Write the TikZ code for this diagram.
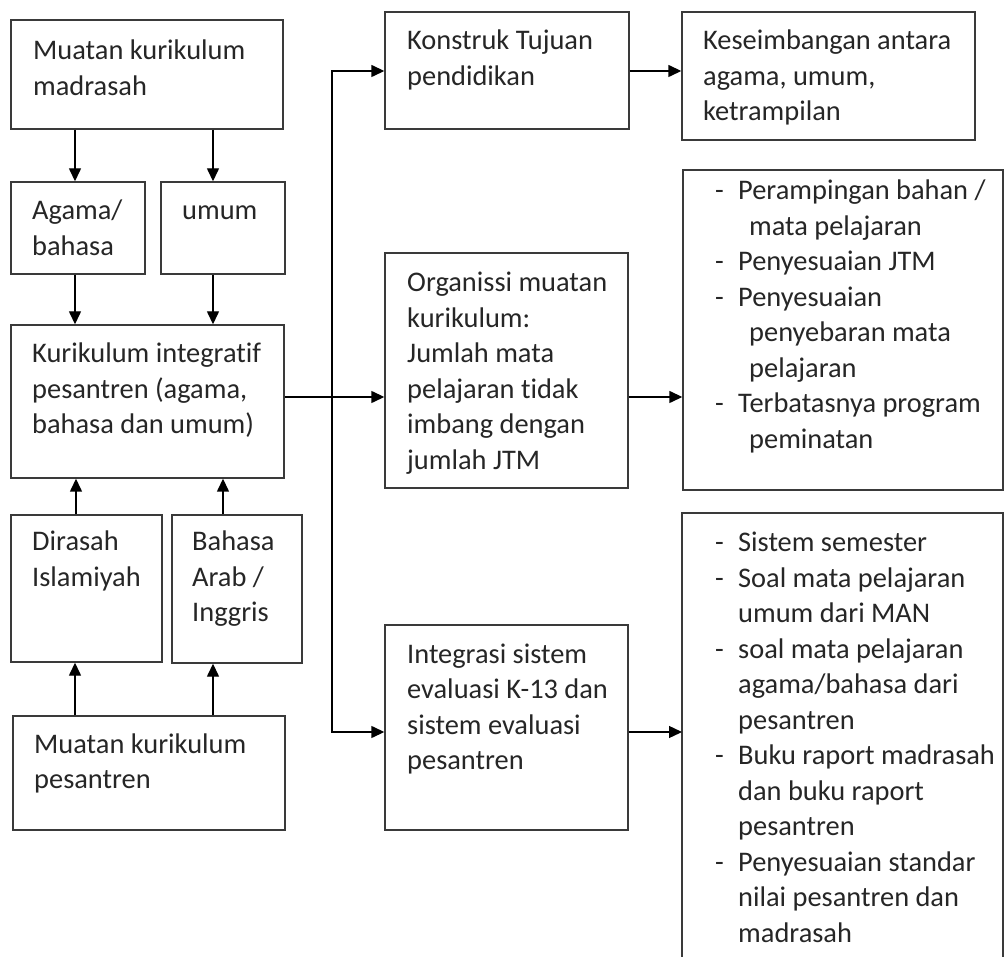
\documentclass[tikz,border=0pt]{standalone}
\usepackage{fontspec}
\setmainfont{Carlito}[Ligatures=NoCommon]
\usetikzlibrary{arrows.meta,fit,calc}
\definecolor{boxc}{HTML}{3A3A3A}
\definecolor{txtc}{HTML}{262626}
\tikzset{
  box/.style={draw=boxc, line width=1.4pt, inner sep=0pt},
  txt/.style={text=txtc, inner sep=0pt, anchor=base west, font=\fontsize{28.4}{35.5}\selectfont},
  arr/.style={draw=black, line width=1.4pt, -{Triangle[length=13pt,width=12pt]}},
  ln/.style={draw=black, line width=1.4pt}
}
\newcommand\mybox[5]{\node[box, fit={(#2,#3) (#4,#5)}] (#1) {};}
\newcommand\mytxt[4]{\node[txt] (#1) at (#2,#3) {\begin{tabular}[t]{@{}l@{}}#4\end{tabular}};}
\newcommand\dsh{\makebox[23pt][l]{-}}
\begin{document}
\begin{tikzpicture}[x=1pt,y=-1pt]
\useasboundingbox[fill=white] (0,0) rectangle (1005,957);
% left column
\mybox{b1}{11}{20}{283}{129}
\mytxt{t1}{33}{60}{Muatan kurikulum\\madrasah}
\mybox{b2}{11}{182}{145}{274}
\mytxt{t2}{32}{220}{Agama/\\bahasa}
\mybox{b3}{161}{182}{285}{274}
\mytxt{t3}{182}{220}{umum}
\mybox{b4}{11}{325}{284}{478}
\mytxt{t4}{32}{363}{Kurikulum integratif\\pesantren (agama,\\bahasa dan umum)}
\mybox{b5}{11}{515}{162}{662}
\mytxt{t5}{32}{551}{Dirasah\\Islamiyah}
\mybox{b6}{172}{515}{302}{663}
\mytxt{t6}{192}{551}{Bahasa\\Arab /\\Inggris}
\mybox{b7}{13}{716}{285}{830}
\mytxt{t7}{34}{753}{Muatan kurikulum\\pesantren}
% middle column
\mybox{b8}{385}{12}{629}{129}
\mytxt{t8}{407}{50}{Konstruk Tujuan\\pendidikan}
\mybox{b10}{385}{253}{628}{488}
\mytxt{t10}{407}{292}{Organissi muatan\\kurikulum:\\Jumlah mata\\pelajaran tidak\\imbang dengan\\jumlah JTM}
\mybox{b12}{385}{625}{628}{830}
\mytxt{t12}{407}{663}{Integrasi sistem\\evaluasi K-13 dan\\sistem evaluasi\\pesantren}
% right column
\mybox{b9}{682}{12}{975}{140}
\mytxt{t9}{703}{50}{Keseimbangan antara\\agama, umum,\\ketrampilan}
\mybox{b11}{683}{170}{1003}{490}
\node[txt] (t11) at (715,200) {\begin{tabular}[t]{@{}l@{}l@{}}
\dsh & Perampingan bahan /\\
 & \hspace{11pt}mata pelajaran\\
\dsh & Penyesuaian JTM\\
\dsh & Penyesuaian\\
 & \hspace{11pt}penyebaran mata\\
 & \hspace{11pt}pelajaran\\
\dsh & Terbatasnya program\\
 & \hspace{11pt}peminatan
\end{tabular}};
\coordinate (b13sw) at (682,965);
\coordinate (b13nw) at (682,513);
\coordinate (b13ne) at (1003,513);
\coordinate (b13se) at (1003,965);
\draw[box] (b13sw) -- (b13nw) -- (b13ne) -- (b13se);
\node[txt] (t13) at (715,552) {\begin{tabular}[t]{@{}l@{}l@{}}
\dsh & Sistem semester\\
\dsh & Soal mata pelajaran\\
 & umum dari MAN\\
\dsh & soal mata pelajaran\\
 & agama/bahasa dari\\
 & pesantren\\
\dsh & Buku raport madrasah\\
 & dan buku raport\\
 & pesantren\\
\dsh & Penyesuaian standar\\
 & nilai pesantren dan\\
 & madrasah
\end{tabular}};
% connectors left column
\draw[arr] (b1.south -| 75,0) -- (b2.north -| 75,0);
\draw[arr] (b1.south -| 213,0) -- (b3.north -| 213,0);
\draw[arr] (b2.south -| 75,0) -- (b4.north -| 75,0);
\draw[arr] (b3.south -| 213,0) -- (b4.north -| 213,0);
\draw[arr] (b5.north -| 76,0) -- (b4.south -| 76,0);
\draw[arr] (b6.north -| 223,0) -- (b4.south -| 223,0);
\draw[arr] (b7.north -| 75,0) -- (b5.south -| 75,0);
\draw[arr] (b7.north -| 213,0) -- (b6.south -| 213,0);
% bus
\coordinate (bus) at (332,397);
\draw[arr] (b4.east |- bus) -- (b10.west |- bus);
\draw[arr] (bus) |- (b8.west |- 0,71);
\draw[arr] (bus) |- (b12.west |- 0,732);
\draw[arr] (b8.east |- 0,71) -- (b9.west |- 0,71);
\draw[arr] (b10.east |- bus) -- (b11.west |- bus);
\draw[arr] (b12.east |- 0,732) -- (b13nw |- 0,732);
\end{tikzpicture}
\end{document}
